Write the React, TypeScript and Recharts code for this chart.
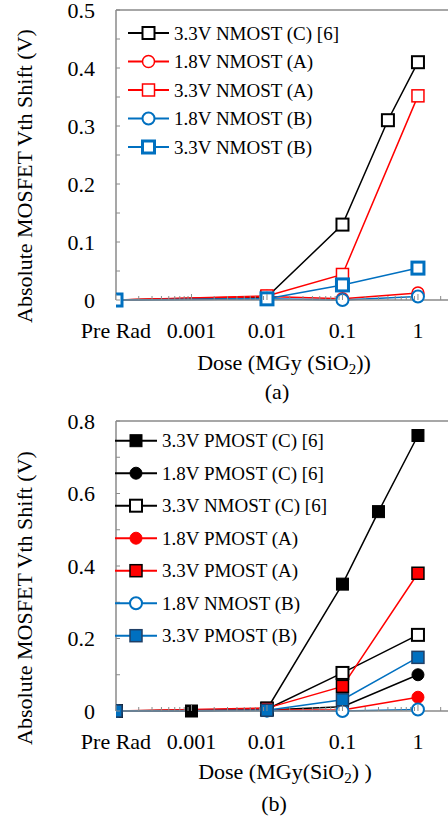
import React from 'react';
import { LineChart, Line, XAxis, YAxis, ReferenceLine, Legend } from 'recharts';

const FONT = '"Liberation Serif", "Times New Roman", serif';
const GREY = '#8a8a8a';
const RED = '#ff0000';
const BLUE = '#0070c0';

// dose in MGy(SiO2); "Pre Rad" sits at 1e-4 on the log axis
const PRE_RAD = 0.0001;
const majorDoses = [PRE_RAD, 0.001, 0.01, 0.1, 1];
const xTickLabels = ['Pre Rad', '0.001', '0.01', '0.1', '1'];

const doseCommon = [PRE_RAD, 0.01, 0.1, 1];
const doseRefA = [PRE_RAD, 0.01, 0.1, 0.4, 1];
const doseRefB = [PRE_RAD, 0.001, 0.01, 0.1, 0.3, 1];

// (a) NMOST shifts (V)
const aN33C = [0, 0.005, 0.13, 0.31, 0.41];
const aN18A = [0, 0.006, 0.002, 0.012];
const aN33A = [0, 0.007, 0.044, 0.352];
const aN18B = [0, 0.002, 0, 0.006];
const aN33B = [0, 0.002, 0.026, 0.055];

// (b) shifts (V)
const bP33C = [0, 0, 0.005, 0.35, 0.55, 0.76];
const bP18C = [0, 0.003, 0.012, 0.1];
const bN33C = [0, 0.005, 0.105, 0.21];
const bP18A = [0, 0.003, 0.003, 0.038];
const bP33A = [0, 0.008, 0.068, 0.38];
const bN18B = [0, 0.001, 0, 0.004];
const bP33B = [0, 0.002, 0.031, 0.148];

const yTicksA = [0, 0.05, 0.1, 0.15, 0.2, 0.25, 0.3, 0.35, 0.4, 0.45, 0.5];
const yLabelsA = ['0', '0.1', '0.2', '0.3', '0.4', '0.5'];
const yTicksB = [0, 0.1, 0.2, 0.3, 0.4, 0.5, 0.6, 0.7, 0.8];
const yLabelsB = ['0', '0.2', '0.4', '0.6', '0.8'];

// minor ticks 1..9 per decade, up to the axis end
const xTicks = majorDoses
  .flatMap((d) => [1, 2, 3, 4, 5, 6, 7, 8, 9].map((k) => k * d))
  .filter((v) => v <= 2.5);

type Series = {
  name: string;
  dose: number[];
  shift: number[];
  color: string;
  shape: 'square' | 'circle';
  fill: string;
  edge: string;
  edgeWidth: number;
};

const seriesA: Series[] = [
  { name: '3.3V NMOST (C) [6]', dose: doseRefA, shift: aN33C, color: '#000', shape: 'square', fill: '#fff', edge: '#000', edgeWidth: 2 },
  { name: '1.8V NMOST (A)', dose: doseCommon, shift: aN18A, color: RED, shape: 'circle', fill: '#fff', edge: RED, edgeWidth: 1.5 },
  { name: '3.3V NMOST (A)', dose: doseCommon, shift: aN33A, color: RED, shape: 'square', fill: '#fff', edge: RED, edgeWidth: 1.5 },
  { name: '1.8V NMOST (B)', dose: doseCommon, shift: aN18B, color: BLUE, shape: 'circle', fill: '#fff', edge: BLUE, edgeWidth: 2 },
  { name: '3.3V NMOST (B)', dose: doseCommon, shift: aN33B, color: BLUE, shape: 'square', fill: '#fff', edge: BLUE, edgeWidth: 3 },
];

const seriesB: Series[] = [
  { name: '3.3V PMOST (C) [6]', dose: doseRefB, shift: bP33C, color: '#000', shape: 'square', fill: '#000', edge: '#000', edgeWidth: 1 },
  { name: '1.8V PMOST (C) [6]', dose: doseCommon, shift: bP18C, color: '#000', shape: 'circle', fill: '#000', edge: '#000', edgeWidth: 1 },
  { name: '3.3V NMOST (C) [6]', dose: doseCommon, shift: bN33C, color: '#000', shape: 'square', fill: '#fff', edge: '#000', edgeWidth: 2 },
  { name: '1.8V PMOST (A)', dose: doseCommon, shift: bP18A, color: RED, shape: 'circle', fill: RED, edge: RED, edgeWidth: 1 },
  { name: '3.3V PMOST (A)', dose: doseCommon, shift: bP33A, color: RED, shape: 'square', fill: RED, edge: '#000', edgeWidth: 1.5 },
  { name: '1.8V NMOST (B)', dose: doseCommon, shift: bN18B, color: BLUE, shape: 'circle', fill: '#fff', edge: BLUE, edgeWidth: 2 },
  { name: '3.3V PMOST (B)', dose: doseCommon, shift: bP33B, color: BLUE, shape: 'square', fill: BLUE, edge: '#1f3f66', edgeWidth: 1.5 },
];

function Mark({ cx, cy, s }: { cx: number; cy: number; s: Series }) {
  if (s.shape === 'square') {
    return <rect x={cx - 6} y={cy - 6} width={12} height={12} fill={s.fill} stroke={s.edge} strokeWidth={s.edgeWidth} />;
  }
  return <circle cx={cx} cy={cy} r={6} fill={s.fill} stroke={s.edge} strokeWidth={s.edgeWidth} />;
}

function XTick(props: any) {
  const { x, y, payload } = props;
  const i = majorDoses.findIndex((d) => Math.abs(d - payload.value) / d < 1e-6);
  return (
    <g>
      <line x1={x} x2={x} y1={y} y2={y - (i >= 0 ? 6 : 4)} stroke={GREY} strokeWidth={1} />
      {i >= 0 && (
        <text x={x} y={y + 38} textAnchor="middle" fontFamily={FONT} fontSize={22} fill="#000">
          {xTickLabels[i]}
        </text>
      )}
    </g>
  );
}

function YTick(props: any) {
  const { x, y, payload, labels } = props;
  const i = (labels as string[]).findIndex((l) => Math.abs(Number(l) - payload.value) < 1e-6);
  return (
    <g>
      <line x1={x} x2={x + 4} y1={y} y2={y} stroke={GREY} strokeWidth={1} />
      {i >= 0 && (
        <text x={x - 21} y={y + 7.5} textAnchor="end" fontFamily={FONT} fontSize={22} fill="#000">
          {labels[i]}
        </text>
      )}
    </g>
  );
}

function LegendBox({ items, rowY, dy, x1, x2, tx }: { items: Series[]; rowY: number; dy: number; x1: number; x2: number; tx: number }) {
  return (
    <svg width={300} height={260}>
      {items.map((s, i) => {
        const y = rowY + i * dy;
        const cx = (x1 + x2) / 2;
        return (
          <g key={s.name}>
            <line x1={x1} x2={x2} y1={y} y2={y} stroke={s.color} strokeWidth={2} />
            <Mark cx={cx} cy={y} s={s} />
            <text x={tx} y={y + 6.5} fontFamily={FONT} fontSize={19} fill="#000">
              {s.name}
            </text>
          </g>
        );
      })}
    </svg>
  );
}

function Panel({
  series,
  yMax,
  yTicks,
  yLabels,
  top,
  marginTop,
  legend,
}: {
  series: Series[];
  yMax: number;
  yTicks: number[];
  yLabels: string[];
  top: number;
  marginTop: number;
  legend: { rowY: number; dy: number; x1: number; x2: number; tx: number };
}) {
  return (
    <div style={{ position: 'absolute', left: 0, top }}>
      <LineChart width={448} height={400} margin={{ top: marginTop, right: 0, bottom: 100 - marginTop - 40 + 10, left: 0 }}>
        <XAxis
          dataKey="dose"
          type="number"
          scale="log"
          domain={[PRE_RAD, 2.5]}
          allowDataOverflow
          ticks={xTicks}
          interval={0}
          height={40}
          tickSize={0}
          tickMargin={0}
          tickLine={false}
          axisLine={{ stroke: GREY, strokeWidth: 1.5 }}
          tick={(p: any) => <XTick {...p} />}
        />
        <YAxis
          type="number"
          domain={[0, yMax]}
          ticks={yTicks}
          interval={0}
          width={116}
          tickSize={0}
          tickMargin={0}
          tickLine={false}
          axisLine={{ stroke: GREY, strokeWidth: 1.5 }}
          tick={(p: any) => <YTick {...p} labels={yLabels} />}
        />
        <ReferenceLine y={yMax} stroke={GREY} strokeWidth={1.5} />
        <Legend
          layout="vertical"
          align="center"
          verticalAlign="middle"
          wrapperStyle={{ left: 100, top: 10, width: 300, height: 260 }}
          content={() => <LegendBox items={series} {...legend} />}
        />
        {series.map((s) => (
          <Line
            key={s.name}
            name={s.name}
            data={s.dose.map((d, i) => ({ dose: d, v: s.shift[i] }))}
            dataKey="v"
            stroke={s.color}
            strokeWidth={1.5}
            isAnimationActive={false}
            activeDot={false}
            dot={(p: any) => <Mark key={p.index} cx={p.cx} cy={p.cy} s={s} />}
          />
        ))}
      </LineChart>
    </div>
  );
}

const textStyle: React.CSSProperties = {
  position: 'absolute',
  fontFamily: FONT,
  fontSize: 22,
  lineHeight: '22px',
  whiteSpace: 'nowrap',
  color: '#000',
};

function YTitle({ cy }: { cy: number }) {
  return (
    <div style={{ ...textStyle, left: 25, top: cy, transform: 'translate(-50%, -50%) rotate(-90deg)' }}>
      Absolute MOSFET Vth Shift (V)
    </div>
  );
}

function Centered({ cx, top, children }: { cx: number; top: number; children: React.ReactNode }) {
  return <div style={{ ...textStyle, left: cx, top, transform: 'translateX(-50%)' }}>{children}</div>;
}

const Sub = ({ children }: { children: React.ReactNode }) => (
  <span style={{ fontSize: 15, verticalAlign: '-4px' }}>{children}</span>
);

export default function App() {
  return (
    <div style={{ position: 'absolute', left: 0, top: 0, width: 448, height: 821, overflow: 'hidden', background: '#fff' }}>
      <Panel
        series={seriesA}
        yMax={0.5}
        yTicks={yTicksA}
        yLabels={yLabelsA}
        top={0}
        marginTop={10}
        legend={{ rowY: 23, dy: 28.5, x1: 28, x2: 69, tx: 74 }}
      />
      <Panel
        series={seriesB}
        yMax={0.8}
        yTicks={yTicksB}
        yLabels={yLabelsB}
        top={410}
        marginTop={11}
        legend={{ rowY: 20.7, dy: 32.5, x1: 15, x2: 57, tx: 62 }}
      />
      <YTitle cy={176} />
      <YTitle cy={598} />
      <Centered cx={284} top={351.6}>
        Dose (MGy (SiO<Sub>2</Sub>))
      </Centered>
      <Centered cx={277} top={380.6}>(a)</Centered>
      <Centered cx={285} top={760.6}>
        Dose (MGy(SiO<Sub>2</Sub>) )
      </Centered>
      <Centered cx={274} top={792.6}>(b)</Centered>
    </div>
  );
}
